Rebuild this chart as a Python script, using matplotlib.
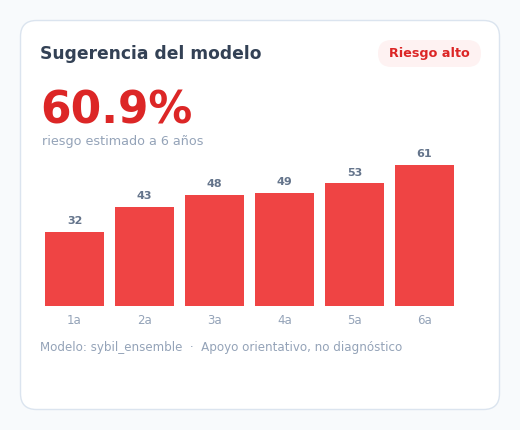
import matplotlib
matplotlib.use("Agg")
import matplotlib.pyplot as plt
from matplotlib.patches import FancyBboxPatch

# datos
anios = ["1a", "2a", "3a", "4a", "5a", "6a"]
riesgo = [32, 43, 48, 49, 53, 61]
riesgo_final = 60.9

W, H = 520, 430
fig = plt.figure(figsize=(W / 100, H / 100), dpi=100)
fig.patch.set_facecolor("#f8fafc")

# capa de fondo en pixeles
bg = fig.add_axes([0, 0, 1, 1])
bg.set_xlim(0, W)
bg.set_ylim(H, 0)
bg.axis("off")

card = FancyBboxPatch((20.5, 20.5), 479, 389, boxstyle="round,pad=0,rounding_size=16",
                      facecolor="white", edgecolor="#dbe4ef", linewidth=1)
bg.add_patch(card)

bg.text(40, 59, "Sugerencia del modelo", fontsize=12.3, fontweight="bold",
        color="#334155", va="baseline", ha="left")

pill = FancyBboxPatch((378, 40), 103, 27, boxstyle="round,pad=0,rounding_size=13.5",
                      facecolor="#fef2f2", edgecolor="none")
bg.add_patch(pill)
bg.text(429.5, 53.5, "Riesgo alto", fontsize=9.2, fontweight="bold",
        color="#dc2626", va="center", ha="center")

bg.text(40, 123, f"{riesgo_final}%", fontsize=31.6, fontweight="bold",
        color="#dc2626", va="baseline", ha="left")
bg.text(42, 145, "riesgo estimado a 6 años", fontsize=9.2,
        color="#94a3b8", va="baseline", ha="left")

bg.text(40, 351, "Modelo: sybil_ensemble  ·  Apoyo orientativo, no diagnóstico",
        fontsize=8.6, color="#94a3b8", va="baseline", ha="left")

# barras
left, right, top, bottom = 45, 454, 165, 306
ax = fig.add_axes([left / W, 1 - bottom / H, (right - left) / W, (bottom - top) / H])
ax.set_facecolor("none")
x = range(len(anios))
ax.bar(x, riesgo, width=59 / 70, color="#ef4444")
ax.set_xlim(-0.5 * 59 / 70, len(anios) - 1 + 0.5 * 59 / 70)
ax.set_ylim(0, max(riesgo))
for i, v in enumerate(riesgo):
    ax.annotate(str(v), (i, v), xytext=(0, 4), textcoords="offset points",
                ha="center", va="bottom", fontsize=8, fontweight="bold",
                color="#64748b", annotation_clip=False)
ax.set_xticks(list(x))
ax.set_xticklabels(anios, fontsize=8.5, color="#94a3b8")
ax.tick_params(axis="x", length=0, pad=5.5)
ax.set_yticks([])
for s in ax.spines.values():
    s.set_visible(False)

fig.savefig("out.png", dpi=100, facecolor=fig.get_facecolor())
